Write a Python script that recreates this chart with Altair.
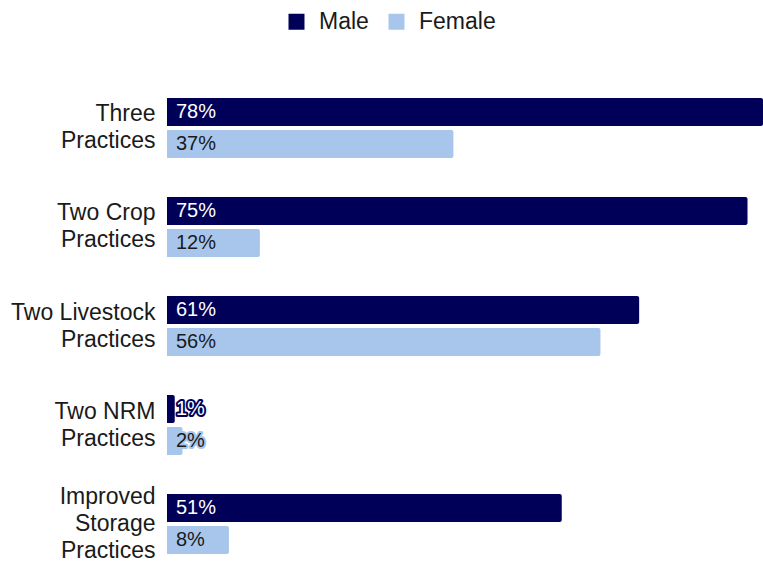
import altair as alt
import pandas as pd

categories = ["Three Practices", "Two Crop Practices", "Two Livestock Practices",
              "Two NRM Practices", "Improved Storage Practices"]
label_lines = [["Three", "Practices"], ["Two Crop", "Practices"],
               ["Two Livestock", "Practices"], ["Two NRM", "Practices"],
               ["Improved", "Storage", "Practices"]]
genders = ["Male", "Female"]
male = [78, 75, 61, 1, 51]
female = [37, 12, 56, 2, 8]

bar_colors = ["#000058", "#a8c6ec"]
text_colors = ["#ffffff", "#1a1a1a"]

rows = []
for c, m, f in zip(categories, male, female):
    rows.append({"category": c, "gender": "Male", "value": m, "label": f"{m}%"})
    rows.append({"category": c, "gender": "Female", "value": f, "label": f"{f}%"})
df = pd.DataFrame(rows)

# multi-line axis labels
expr = "datum.value"
for c, lines in reversed(list(zip(categories, label_lines))):
    arr = "[" + ",".join(f"'{l}'" for l in lines) + "]"
    expr = f"datum.value == '{c}' ? {arr} : ({expr})"

FONT = "Liberation Sans"

y_enc = alt.Y("category:N", sort=categories, title=None,
              scale=alt.Scale(paddingInner=0.394, paddingOuter=0.07),
              axis=alt.Axis(labelExpr=expr, ticks=False, domain=False, grid=False,
                            labelPadding=12, labelFontSize=23, labelColor="#1a1a1a",
                            labelFont=FONT, labelLineHeight=27, labelLimit=300,
                            labelOffset={"condition": {"test": "datum.value == 'Improved Storage Practices'",
                                                       "value": -27},
                                         "value": -13.5}))
yoff = alt.YOffset("gender:N", sort=genders, scale=alt.Scale(paddingInner=0.125))
x_enc = alt.X("value:Q", scale=alt.Scale(domain=[0, 77], nice=False, clamp=True),
              axis=None, stack=None)

base = alt.Chart(df)

bars = base.mark_bar(cornerRadiusEnd=2).encode(
    y=y_enc, yOffset=yoff, x=x_enc,
    color=alt.Color("gender:N", sort=genders,
                    scale=alt.Scale(domain=genders, range=bar_colors),
                    legend=alt.Legend(title=None, orient="none", direction="horizontal",
                                      legendX=118, legendY=-81, symbolType="square",
                                      symbolSize=256, symbolStrokeWidth=0,
                                      labelFontSize=23, labelFont=FONT,
                                      labelColor="#1a1a1a", labelOffset=11,
                                      columnPadding=16))
)

halo = base.mark_text(align="left", baseline="middle", dx=9, fontSize=20, font=FONT,
                      strokeWidth=4, strokeJoin="round").encode(
    y=y_enc, yOffset=yoff, x=alt.datum(0), text="label:N",
    stroke=alt.Stroke("gender:N", scale=alt.Scale(domain=genders, range=bar_colors),
                      legend=None)
)

labels = base.mark_text(align="left", baseline="middle", dx=9, fontSize=20, font=FONT).encode(
    y=y_enc, yOffset=yoff, x=alt.datum(0), text="label:N",
    fill=alt.Fill("gender:N", scale=alt.Scale(domain=genders, range=text_colors),
                  legend=None)
)

chart = alt.layer(bars, halo, labels).properties(
    width=596, height=470,
    autosize=alt.AutoSizeParams(type="none"),
    padding={"left": 167, "top": 91, "right": 0, "bottom": 0},
).configure(font=FONT).configure_view(stroke=None)

chart.save("out.html", embed_options={"renderer": "svg", "actions": False})
